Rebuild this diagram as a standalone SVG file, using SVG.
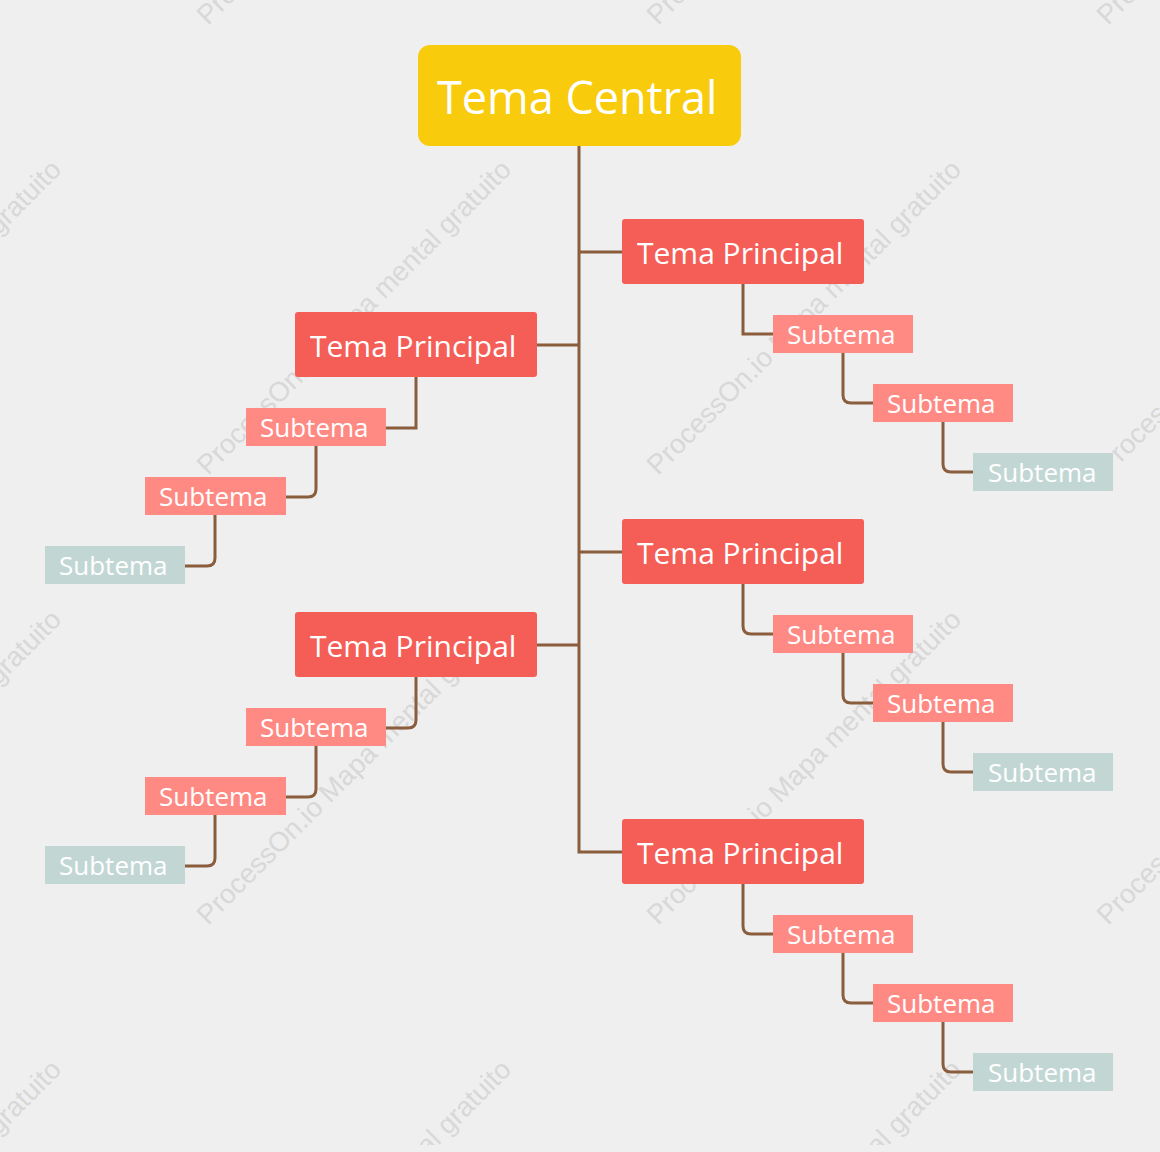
<svg xmlns="http://www.w3.org/2000/svg" width="1160" height="1152" viewBox="0 0 1160 1152">
<defs>
<style>
.wm{font-family:"Liberation Sans",Arial,sans-serif;font-size:27.5px;fill:#d8d8d8}
.c{fill:none;stroke:#8A5D3C;stroke-width:3}
.central{fill:#F8CB0C}
.main{fill:#F55D57}
.sub{fill:#FF8A84}
.leaf{fill:#C2D7D4}
.t{font-family:"Open Sans","Noto Sans",sans-serif;fill:#ffffff}
.tc{font-size:45px}
.tm{font-size:30px}
.ts{font-size:26px}
</style>
<clipPath id="wmclip"><rect x="0" y="0" width="1160" height="1145"/></clipPath>
</defs>
<rect x="0" y="0" width="1160" height="1152" fill="#EFEFEF"/>
<g id="watermark" clip-path="url(#wmclip)">
<g transform="translate(8,6)">
<text class="wm" transform="translate(-250,20) rotate(-45)">ProcessOn.io Mapa mental gratuito</text>
<text class="wm" transform="translate(200,20) rotate(-45)">ProcessOn.io Mapa mental gratuito</text>
<text class="wm" transform="translate(650,20) rotate(-45)">ProcessOn.io Mapa mental gratuito</text>
<text class="wm" transform="translate(1100,20) rotate(-45)">ProcessOn.io Mapa mental gratuito</text>
<text class="wm" transform="translate(-250,470) rotate(-45)">ProcessOn.io Mapa mental gratuito</text>
<text class="wm" transform="translate(200,470) rotate(-45)">ProcessOn.io Mapa mental gratuito</text>
<text class="wm" transform="translate(650,470) rotate(-45)">ProcessOn.io Mapa mental gratuito</text>
<text class="wm" transform="translate(1100,470) rotate(-45)">ProcessOn.io Mapa mental gratuito</text>
<text class="wm" transform="translate(-250,920) rotate(-45)">ProcessOn.io Mapa mental gratuito</text>
<text class="wm" transform="translate(200,920) rotate(-45)">ProcessOn.io Mapa mental gratuito</text>
<text class="wm" transform="translate(650,920) rotate(-45)">ProcessOn.io Mapa mental gratuito</text>
<text class="wm" transform="translate(1100,920) rotate(-45)">ProcessOn.io Mapa mental gratuito</text>
<text class="wm" transform="translate(-250,1370) rotate(-45)">ProcessOn.io Mapa mental gratuito</text>
<text class="wm" transform="translate(200,1370) rotate(-45)">ProcessOn.io Mapa mental gratuito</text>
<text class="wm" transform="translate(650,1370) rotate(-45)">ProcessOn.io Mapa mental gratuito</text>
<text class="wm" transform="translate(1100,1370) rotate(-45)">ProcessOn.io Mapa mental gratuito</text>
</g>
</g>
<g id="connectors">
<path class="c" d="M579,146 V852 H622"/>
<path class="c" d="M579,252 H622"/>
<path class="c" d="M579,552 H622"/>
<path class="c" d="M579,345 H537"/>
<path class="c" d="M579,645 H537"/>
<path class="c" d="M743,284 V334 H773"/>
<path class="c" d="M843,353 V395 Q843,403 851,403 H873"/>
<path class="c" d="M943,422 V464 Q943,472 951,472 H973"/>
<path class="c" d="M743,584 V626 Q743,634 751,634 H773"/>
<path class="c" d="M843,653 V695 Q843,703 851,703 H873"/>
<path class="c" d="M943,722 V764 Q943,772 951,772 H973"/>
<path class="c" d="M743,884 V926 Q743,934 751,934 H773"/>
<path class="c" d="M843,953 V995 Q843,1003 851,1003 H873"/>
<path class="c" d="M943,1022 V1064 Q943,1072 951,1072 H973"/>
<path class="c" d="M416,377 V428 H386"/>
<path class="c" d="M316,446 V489 Q316,497 308,497 H286"/>
<path class="c" d="M215,515 V558 Q215,566 207,566 H185"/>
<path class="c" d="M416,677 V720 Q416,728 408,728 H386"/>
<path class="c" d="M316,746 V789 Q316,797 308,797 H286"/>
<path class="c" d="M215,815 V858 Q215,866 207,866 H185"/>
</g>
<g id="central"><rect class="central" x="418" y="45" width="323" height="101" rx="12"/><text class="t tc" x="437" y="114">Tema Central</text></g>
<g id="main-r1"><rect class="main" x="622" y="219" width="242" height="65" rx="3"/><text class="t tm" x="637" y="264">Tema Principal</text></g>
<g id="main-r2"><rect class="main" x="622" y="519" width="242" height="65" rx="3"/><text class="t tm" x="637" y="564">Tema Principal</text></g>
<g id="main-r3"><rect class="main" x="622" y="819" width="242" height="65" rx="3"/><text class="t tm" x="637" y="864">Tema Principal</text></g>
<g id="main-l1"><rect class="main" x="295" y="312" width="242" height="65" rx="3"/><text class="t tm" x="310" y="357">Tema Principal</text></g>
<g id="main-l2"><rect class="main" x="295" y="612" width="242" height="65" rx="3"/><text class="t tm" x="310" y="657">Tema Principal</text></g>
<g id="sub-r1a"><rect class="sub" x="773" y="315" width="140" height="38"/><text class="t ts" x="787" y="344">Subtema</text></g>
<g id="sub-r1b"><rect class="sub" x="873" y="384" width="140" height="38"/><text class="t ts" x="887" y="413">Subtema</text></g>
<g id="sub-r1c"><rect class="leaf" x="973" y="453" width="140" height="38"/><text class="t ts" x="988" y="482">Subtema</text></g>
<g id="sub-r2a"><rect class="sub" x="773" y="615" width="140" height="38"/><text class="t ts" x="787" y="644">Subtema</text></g>
<g id="sub-r2b"><rect class="sub" x="873" y="684" width="140" height="38"/><text class="t ts" x="887" y="713">Subtema</text></g>
<g id="sub-r2c"><rect class="leaf" x="973" y="753" width="140" height="38"/><text class="t ts" x="988" y="782">Subtema</text></g>
<g id="sub-r3a"><rect class="sub" x="773" y="915" width="140" height="38"/><text class="t ts" x="787" y="944">Subtema</text></g>
<g id="sub-r3b"><rect class="sub" x="873" y="984" width="140" height="38"/><text class="t ts" x="887" y="1013">Subtema</text></g>
<g id="sub-r3c"><rect class="leaf" x="973" y="1053" width="140" height="38"/><text class="t ts" x="988" y="1082">Subtema</text></g>
<g id="sub-l1a"><rect class="sub" x="246" y="408" width="140" height="38"/><text class="t ts" x="260" y="437">Subtema</text></g>
<g id="sub-l1b"><rect class="sub" x="145" y="477" width="141" height="38"/><text class="t ts" x="159" y="506">Subtema</text></g>
<g id="sub-l1c"><rect class="leaf" x="45" y="546" width="140" height="38"/><text class="t ts" x="59" y="575">Subtema</text></g>
<g id="sub-l2a"><rect class="sub" x="246" y="708" width="140" height="38"/><text class="t ts" x="260" y="737">Subtema</text></g>
<g id="sub-l2b"><rect class="sub" x="145" y="777" width="141" height="38"/><text class="t ts" x="159" y="806">Subtema</text></g>
<g id="sub-l2c"><rect class="leaf" x="45" y="846" width="140" height="38"/><text class="t ts" x="59" y="875">Subtema</text></g>
</svg>
